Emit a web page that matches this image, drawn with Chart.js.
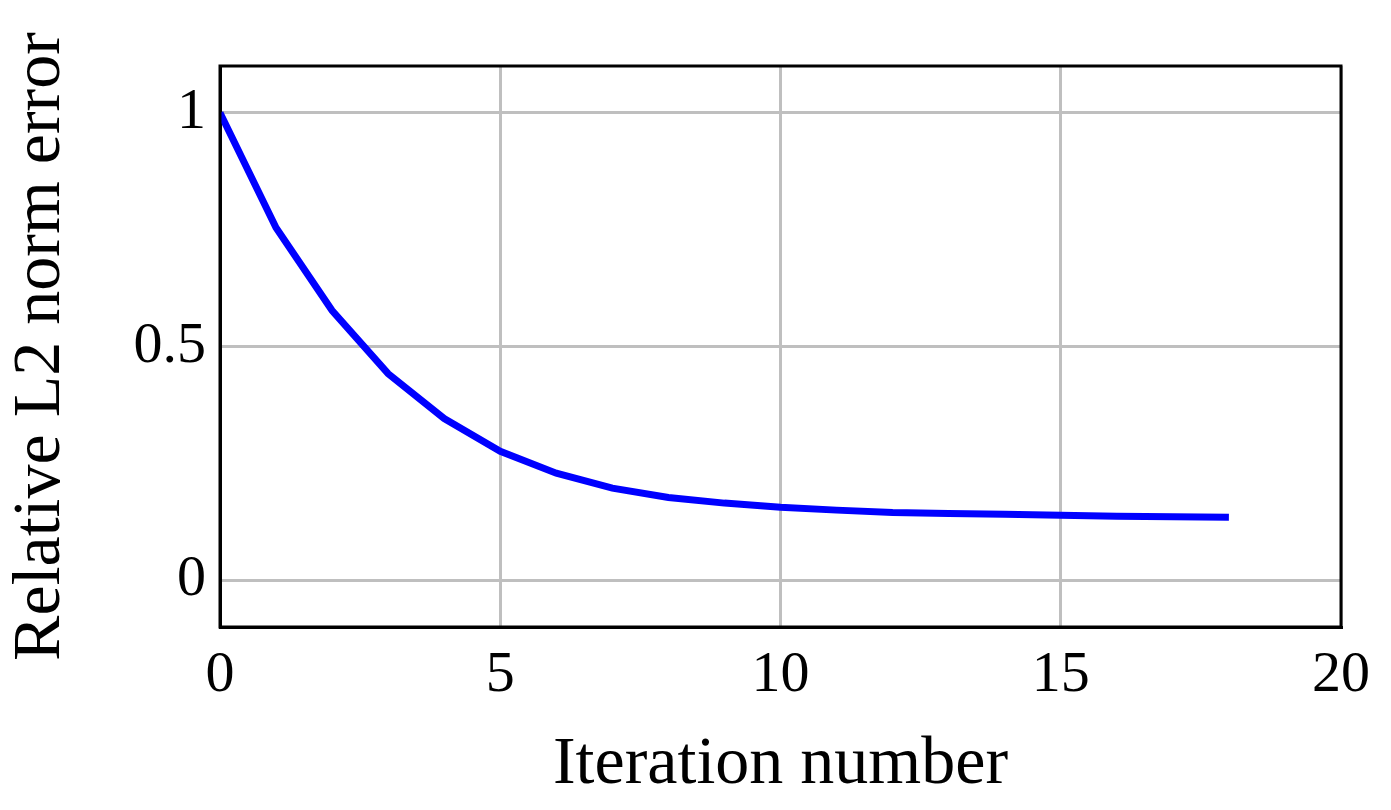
<!DOCTYPE html>
<html><head><meta charset="utf-8">
<script src="https://cdn.jsdelivr.net/npm/chart.js@4"></script>
<style>html,body{margin:0;padding:0;background:#fff}#w{width:1391px;height:810px}</style>
</head><body><div id="w"><canvas id="c"></canvas></div>
<script>
const iterations = [0,1,2,3,4,5,6,7,8,9,10,11,12,13,14,15,16,17,18];
const errors = [1.0,0.754,0.577,0.442,0.346,0.276,0.229,0.197,0.177,0.165,0.156,0.150,0.145,0.143,0.141,0.139,0.137,0.136,0.135];
const xTicks = [0,5,10,15,20];
const yTicks = [0,0.5,1];
const font = {family:'"Liberation Serif","DejaVu Serif",serif', size:58};
new Chart(document.getElementById('c'), {
  type:'line',
  data:{datasets:[{data:iterations.map((x,i)=>({x, y:errors[i]})), borderColor:'#0000ff', borderWidth:7, pointRadius:0, fill:false, tension:0}]},
  options:{
    responsive:true, maintainAspectRatio:false, animation:false,
    layout:{padding:{top:66,right:50,left:0,bottom:0}},
    plugins:{legend:{display:false}, tooltip:{enabled:false}},
    scales:{
      x:{type:'linear', min:0, max:20,
        afterBuildTicks:a=>{a.ticks=xTicks.map(v=>({value:v}));},
        afterFit:a=>{a.height=183;},
        grid:{color:'#bfbfbf', lineWidth:3, tickLength:0},
        border:{color:'#000', width:3},
        ticks:{color:'#000', font, padding:14, maxRotation:0},
        title:{display:true, text:'Iteration number', color:'#000', font:{...font, size:68}, padding:{top:0}}
      },
      y:{type:'linear', min:-0.1, max:1.1,
        afterBuildTicks:a=>{a.ticks=yTicks.map(v=>({value:v}));},
        afterFit:a=>{a.width=220;},
        grid:{color:'#bfbfbf', lineWidth:3, tickLength:0},
        border:{color:'#000', width:3},
        ticks:{color:'#000', font, padding:14, callback:v=>String(v)},
        title:{display:true, text:'Relative L2 norm error', color:'#000', font:{...font, size:68}, padding:{top:0,bottom:0}}
      }
    }
  },
  plugins:[{id:'frame', afterDraw(c){const a=c.chartArea,x=c.ctx;x.save();x.strokeStyle='#000';x.lineWidth=3;x.strokeRect(a.left,a.top,a.right-a.left,a.bottom-a.top);x.restore();}}]
});
</script></body></html>
